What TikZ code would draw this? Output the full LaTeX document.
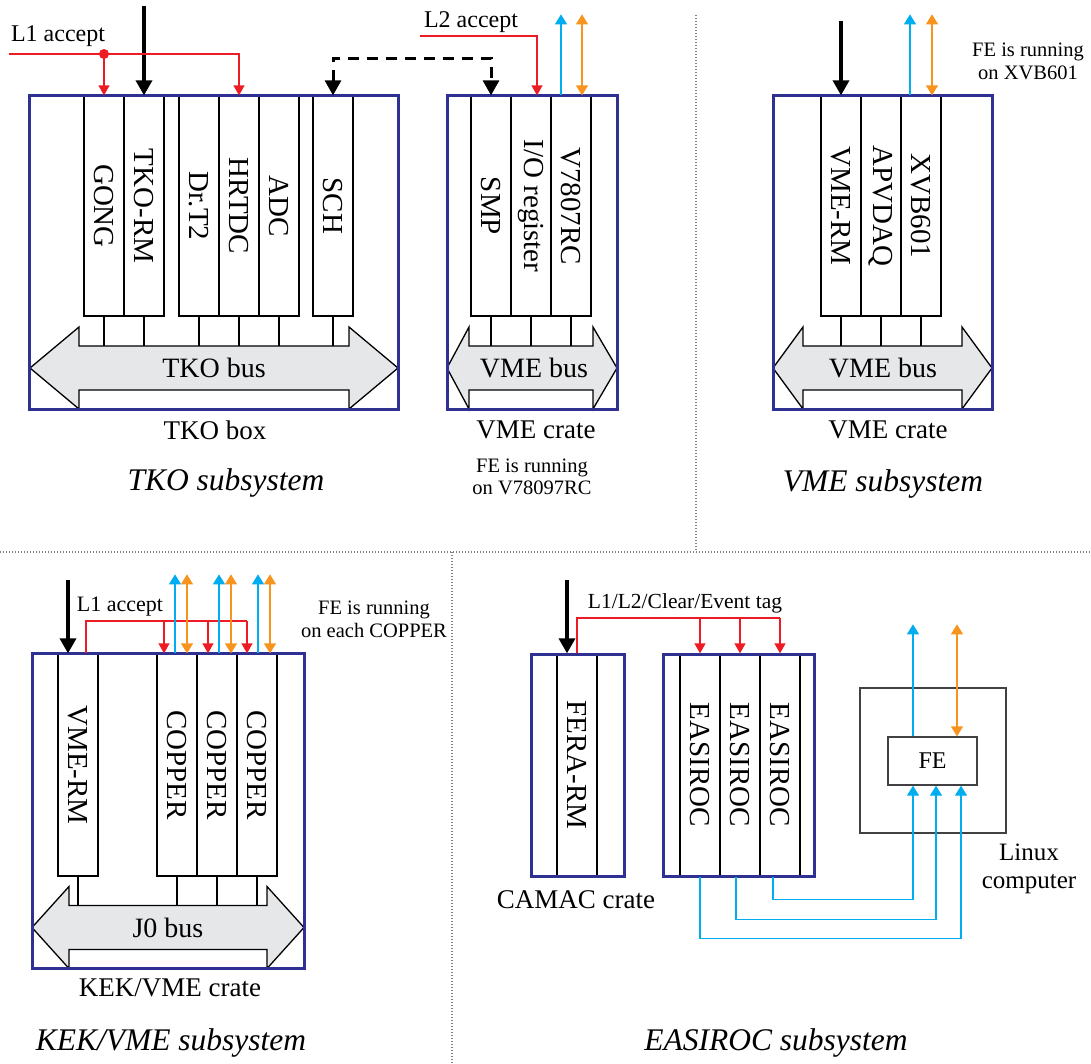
\documentclass[tikz,border=0pt]{standalone}
\usepackage{fontspec}
\setmainfont{Liberation Serif}
\usepackage{graphicx}
\usetikzlibrary{arrows.meta,positioning}
\definecolor{crateblue}{RGB}{46,49,146}
\definecolor{sigredc}{RGB}{237,28,36}
\definecolor{sigcyanc}{RGB}{0,174,239}
\definecolor{sigorangec}{RGB}{247,148,29}
\definecolor{busgray}{RGB}{230,231,232}
\definecolor{pcgray}{RGB}{65,64,66}
\newcommand{\fsz}[1]{\fontsize{#1pt}{#1pt}\selectfont}
% bus arrow: left tip, left base, right base, right tip, centre y
\newcommand{\busshape}[5]{%
  \filldraw[bus] (#1,#5) -- (#2,#5-41) -- (#2,#5-22) -- (#3,#5-22) -- (#3,#5-41)
    -- (#4,#5) -- (#3,#5+41) -- (#3,#5+22) -- (#2,#5+22) -- (#2,#5+41) -- cycle;}
\tikzset{
  crate/.style={draw=crateblue,line width=3pt,inner sep=0pt},
  card/.style={draw,fill=white,line width=1.3pt,minimum width=40pt,minimum height=220pt,inner sep=0pt,font=\fsz{29}},
  bus/.style={draw=black,fill=busgray,line width=1.3pt},
  buslabel/.style={font=\fsz{28}},
  stub/.style={line width=1.3pt},
  cratelabel/.style={font=\fsz{27}},
  title/.style={font=\fsz{31.5}\itshape},
  siglabel/.style={font=\fsz{24}},
  note/.style={font=\fontsize{20.5pt}{22.5pt}\selectfont,align=center},
  trig/.style={line width=3.5pt,-{Triangle[width=16pt,length=15pt]}},
  tokenline/.style={line width=3pt,dash pattern=on 11pt off 8pt,
    arrows={Triangle[width=16pt,length=15pt]-Triangle[width=16pt,length=15pt]}},
  sigline/.style={draw=sigredc,line width=1.3pt},
  sigred/.style={sigline,-{Triangle[width=11pt,length=10pt]}},
  sigcyan/.style={draw=sigcyanc,line width=1.3pt,-{Triangle[width=12pt,length=10pt]}},
  sigorange/.style={draw=sigorangec,line width=1.3pt,
    arrows={Triangle[width=12pt,length=10pt]-Triangle[width=12pt,length=10pt]}},
  pcbox/.style={draw=pcgray,line width=1.3pt,inner sep=0pt},
  sepline/.style={draw=gray,line width=1.2pt,dash pattern=on 1pt off 2pt}
}
\begin{document}
\begin{tikzpicture}[x=1pt,y=-1pt]
\useasboundingbox (0,0) rectangle (1091,1063);
% separators
\draw[sepline] (696,15) -- (696,552);
\draw[sepline] (0,552) -- (1091,552);
\draw[sepline] (452,552) -- (452,1063);

% ---- TKO subsystem ----
\coordinate (topbus) at (0,346);
\busshape{30}{79}{349}{398}{368}
\node[buslabel] (tkobus) at (214,368) {TKO bus};
\node[card] (gong) at (104,206) {\rotatebox{-90}{GONG}};
\node[card] (tkorm) at (144,206) {\rotatebox{-90}{TKO-RM}};
\node[card] (drt) at (199,206) {\rotatebox{-90}{Dr.T2}};
\node[card] (hrtdc) at (239,206) {\rotatebox{-90}{HRTDC}};
\node[card] (adc) at (279,206) {\rotatebox{-90}{ADC}};
\node[card] (sch) at (333,206) {\rotatebox{-90}{SCH}};
\foreach \c in {gong,tkorm,drt,hrtdc,adc,sch}
  \draw[stub] (\c.south) -- (\c.south |- topbus);
\node[crate,minimum width=369pt,minimum height=314pt] (tkocrate) at (213.5,252) {};
\node[cratelabel] at (215,430) {TKO box};
\node[title] at (226,483) {TKO subsystem};
% trigger and L1
\coordinate (tkoin) at (144,6);
\draw[trig] (tkoin) -- (tkorm.north);
\coordinate (l1in) at (9,54);
\node[siglabel] at (58,36) {L1 accept};
\draw[sigred] (l1in) -| (hrtdc.north);
\fill[sigredc] (gong.north |- l1in) circle (5pt);
\draw[sigred] (gong.north |- l1in) -- (gong.north);

% ---- VME crate (TKO) ----
\busshape{447}{469}{593}{617}{368}
\node[buslabel] (vmebus) at (534,368) {VME bus};
\node[card] (smp) at (491,206) {\rotatebox{-90}{SMP}};
\node[card] (iorg) at (531,206) {\rotatebox{-90}{I/O register}};
\node[card] (vrc) at (571,206) {\rotatebox{-90}{V7807RC}};
\foreach \c in {smp,iorg,vrc}
  \draw[stub] (\c.south) -- (\c.south |- topbus);
\node[crate,minimum width=170pt,minimum height=314pt] (vmecrate) at (532,252) {};
\node[cratelabel] at (536,430) {VME crate};
\node[note] at (532,477) {FE is running\\on V78097RC};
\coordinate (tokenbar) at (400,58);
\draw[tokenline] (sch.north) -- (sch.north |- tokenbar) -- (smp.north |- tokenbar) -- (smp.north);
\coordinate (l2in) at (420,36);
\node[siglabel] at (471,22) {L2 accept};
\draw[sigred] (l2in) -| ([xshift=6pt]iorg.north);
\draw[sigcyan] ([xshift=-10pt]vrc.north) -- ++(0,-81);
\draw[sigorange] ([xshift=11pt]vrc.north) -- ++(0,-81);

% ---- VME subsystem ----
\busshape{773}{803}{962}{992}{368}
\node[buslabel] (apvbus) at (883,368) {VME bus};
\node[card] (vmerm) at (841,206) {\rotatebox{-90}{VME-RM}};
\node[card] (apv) at (881,206) {\rotatebox{-90}{APVDAQ}};
\node[card] (xvb) at (921,206) {\rotatebox{-90}{XVB601}};
\foreach \c in {vmerm,apv,xvb}
  \draw[stub] (\c.south) -- (\c.south |- topbus);
\node[crate,minimum width=219pt,minimum height=314pt] (apvcrate) at (882.5,252) {};
\node[cratelabel] at (888,430) {VME crate};
\node[title] at (883,484) {VME subsystem};
\node[note] at (1028,61.5) {FE is running\\on XVB601};
\coordinate (vmein) at (841,21);
\draw[trig] (vmein) -- (vmerm.north);
\draw[sigcyan] ([xshift=-11pt]xvb.north) -- ++(0,-81);
\draw[sigorange] ([xshift=11pt]xvb.north) -- ++(0,-81);

% ---- KEK/VME subsystem ----
\coordinate (kekbus) at (0,906);
\busshape{32}{69}{267}{304}{927.5}
\node[buslabel] (jbus) at (168,928) {J0 bus};
\node[card,minimum height=222pt] (kekrm) at (78,765) {\rotatebox{-90}{VME-RM}};
\node[card,minimum height=222pt] (copa) at (177,765) {\rotatebox{-90}{COPPER}};
\node[card,minimum height=222pt] (copb) at (217,765) {\rotatebox{-90}{COPPER}};
\node[card,minimum height=222pt] (copc) at (257,765) {\rotatebox{-90}{COPPER}};
\foreach \c in {kekrm,copa,copb,copc}
  \draw[stub] (\c.south) -- (\c.south |- kekbus);
\node[crate,minimum width=272pt,minimum height=315pt] (kekcrate) at (168,810.5) {};
\node[cratelabel] at (170,988) {KEK/VME crate};
\node[title] at (171,1043) {KEK/VME subsystem};
\node[note] at (374,619.5) {FE is running\\on each COPPER};
\coordinate (kekin) at (68,580);
\draw[trig] (kekin) -- ([xshift=-10pt]kekrm.north);
\coordinate (kekbar) at (0,621);
\node[siglabel,font=\fsz{22}] at (120,607) {L1 accept};
\draw[sigline] ([xshift=8pt]kekrm.north) |- ([xshift=-10pt]copc.north |- kekbar);
\foreach \c/\d in {copa/-13,copb/-9,copc/-10}
  \draw[sigred] ([xshift=\d pt]\c.north |- kekbar) -- ([xshift=\d pt]\c.north);
\foreach \c/\d in {copa/-2,copb/2,copc/1}{
  \draw[sigcyan] ([xshift=\d pt]\c.north) -- ++(0,-79);
  \draw[sigorange] ([xshift=\d pt+12pt]\c.north) -- ++(0,-79);
}

% ---- EASIROC subsystem ----
\node[card,minimum height=222pt] (fera) at (577,765) {\rotatebox{-90}{FERA-RM}};
\node[crate,minimum width=93pt,minimum height=222pt] (camac) at (577.5,765) {};
\node[cratelabel] at (576,900) {CAMAC crate};
\node[card,minimum height=222pt] (easa) at (700,765) {\rotatebox{-90}{EASIROC}};
\node[card,minimum height=222pt] (easb) at (740,765) {\rotatebox{-90}{EASIROC}};
\node[card,minimum height=222pt] (easc) at (780,765) {\rotatebox{-90}{EASIROC}};
\node[crate,minimum width=151pt,minimum height=222pt] (easicrate) at (738.5,765) {};
\node[pcbox,minimum width=146pt,minimum height=145pt] (linuxpc) at (933,760.5) {};
\node[pcbox,minimum width=89pt,minimum height=48pt,font=\fsz{24}] (fe) at (932.5,761) {FE};
\node[font=\fontsize{25pt}{28pt}\selectfont,align=center] at (1029,869) {Linux\\computer};
\node[title] at (776,1043) {EASIROC subsystem};
\coordinate (camacin) at (567,580);
\draw[trig] (camacin) -- ([xshift=-10pt]fera.north);
\coordinate (easbar) at (0,618);
\node[font=\fsz{21.5}] at (685,603) {L1/L2/Clear/Event tag};
\draw[sigline] (fera.north) |- (easc.north |- easbar);
\foreach \c in {easa,easb,easc}
  \draw[sigred] (\c.north |- easbar) -- (\c.north);
% readout to FE
\draw[sigcyan] (easa.south) -- ++(0,62) -| ([xshift=28.5pt]fe.south);
\draw[sigcyan] ([xshift=-4pt]easb.south) -- ++(0,43) -| ([xshift=3.5pt]fe.south);
\draw[sigcyan] ([xshift=-7pt]easc.south) -- ++(0,23) -| ([xshift=-19.5pt]fe.south);
\draw[sigcyan] ([xshift=-19.5pt]fe.north) -- ++(0,-112);
\draw[sigorange] ([xshift=24.5pt]fe.north) -- ++(0,-112);
\end{tikzpicture}
\end{document}
